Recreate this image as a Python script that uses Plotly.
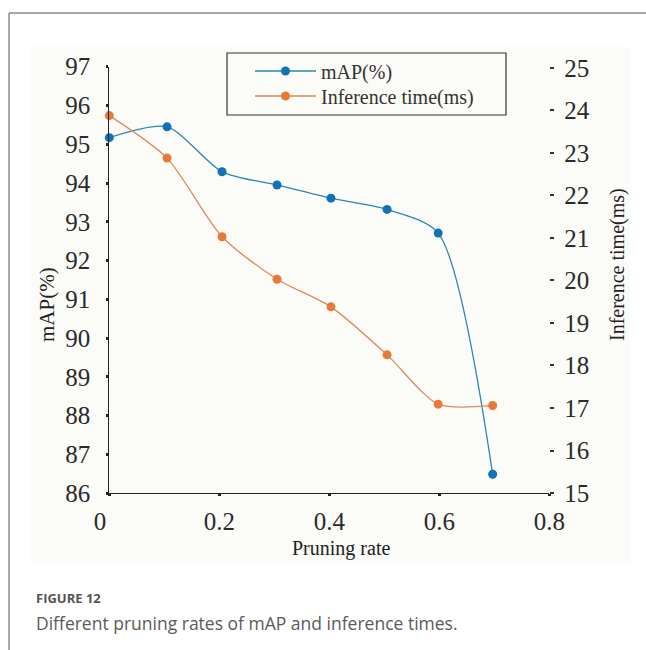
import plotly.graph_objects as go

# ---- data ----
pruning_rate = [0.0, 0.105, 0.205, 0.305, 0.403, 0.505, 0.598, 0.697]
map_pct = [95.17, 95.45, 94.29, 93.95, 93.61, 93.32, 92.71, 86.49]
inference_ms = [23.88, 22.88, 21.03, 20.03, 19.38, 18.25, 17.09, 17.06]
x_ticks = [0, 0.2, 0.4, 0.6, 0.8]
x_tick_text = ["0\u00a0\u00a0\u00a0", "0.2", "0.4", "0.6", "0.8"]
left_ticks = list(range(86, 98))
right_ticks = list(range(15, 26))

W, H = 646, 650
def px(x):
    return x / W
def py(y):
    return 1 - y / H

BLUE_LINE = "#2a88ad"
BLUE = "#1173b3"
ORANGE_LINE = "#e0895a"
ORANGE = "#e8793a"
SERIF = "Liberation Serif, DejaVu Serif, serif"
SANS = "Open Sans, Noto Sans, sans-serif"

fig = go.Figure()
fig.add_trace(go.Scatter(
    x=pruning_rate, y=map_pct, name="mAP(%)", mode="lines+markers",
    line=dict(color=BLUE_LINE, width=1.3, shape="spline", smoothing=0.75),
    marker=dict(color=BLUE, size=9), cliponaxis=False, yaxis="y", legend="legend"))
fig.add_trace(go.Scatter(
    x=pruning_rate, y=inference_ms, name="Inference time(ms)", mode="lines+markers",
    line=dict(color=ORANGE_LINE, width=1.3, shape="spline", smoothing=0.75),
    marker=dict(color=ORANGE, size=9), cliponaxis=False, yaxis="y2", legend="legend2"))

x0p, x1p = 109.3, 549.3
ytop, ybot = 66.7, 493.3

tickfont = dict(family=SERIF, size=25, color="#2a2a2a")
legfont = dict(family=SERIF, size=20, color="#333")

fig.update_layout(
    width=W, height=H, margin=dict(l=0, r=0, t=0, b=0, autoexpand=False),
    paper_bgcolor="white", plot_bgcolor="rgba(0,0,0,0)",
    font=dict(family=SERIF, color="#222"),
    showlegend=True,
    legend=dict(x=px(250), y=py(71), xanchor="left", yanchor="middle",
                bgcolor="rgba(0,0,0,0)", borderwidth=0, font=legfont, itemwidth=61),
    legend2=dict(x=px(250), y=py(96), xanchor="left", yanchor="middle",
                 bgcolor="rgba(0,0,0,0)", borderwidth=0, font=legfont, itemwidth=61),
    xaxis=dict(domain=[px(x0p), px(x1p)], range=[0, 0.8], automargin=False,
               tickvals=x_ticks, ticktext=x_tick_text,
               showgrid=False, zeroline=False,
               showline=True, linecolor="#222", linewidth=1.2,
               ticks="outside", ticklen=2, tickwidth=3, tickcolor="#222",
               ticklabelstandoff=4, tickfont=tickfont),
    yaxis=dict(domain=[py(ybot), py(ytop)], range=[86, 97], automargin=False,
               tickvals=left_ticks, showgrid=False, zeroline=False,
               showline=True, linecolor="#222", linewidth=1.2,
               ticks="outside", ticklen=2, tickwidth=3, tickcolor="#222",
               ticklabelstandoff=11, tickfont=tickfont),
    yaxis2=dict(overlaying="y", side="right", anchor="x", automargin=False,
                range=[14.993, 25.03], tickvals=right_ticks,
                showgrid=False, zeroline=False, showline=False,
                ticks="outside", ticklen=4, tickwidth=1.5, tickcolor="#333",
                ticklabelstandoff=5, tickfont=tickfont),
)

shapes = [
    # light image background
    dict(type="rect", xref="paper", yref="paper", x0=px(31), x1=px(630),
         y0=py(563), y1=py(47), fillcolor="#fbfbf8", line=dict(width=0), layer="below"),
    # outer frame lines
    dict(type="line", xref="paper", yref="paper", x0=px(9), x1=px(646),
         y0=py(13), y1=py(13), line=dict(color="#8a8a8a", width=1.5)),
    dict(type="line", xref="paper", yref="paper", x0=px(9), x1=px(9),
         y0=py(13), y1=py(650), line=dict(color="#8a8a8a", width=1.5)),
    # legend box
    dict(type="rect", xref="paper", yref="paper", x0=px(227), x1=px(506),
         y0=py(115), y1=py(53), line=dict(color="#333", width=1.2),
         fillcolor="rgba(0,0,0,0)"),
]
fig.update_layout(shapes=shapes)

def ann(text, x, y, size, family=SERIF, color="#222", angle=0, xanchor="center"):
    return dict(text=text, x=px(x), y=py(y), xref="paper", yref="paper",
                xanchor=xanchor, yanchor="middle", showarrow=False,
                textangle=angle, font=dict(family=family, size=size, color=color))

annotations = [
    ann("Pruning rate", 341, 548, 20),
    ann("mAP(%)", 47, 304, 21, angle=-90),
    ann("Inference time(ms)", 617, 265, 20, angle=-90),
    ann("<b>FIGURE 12</b>", 34, 598, 13, family=SANS, color="#555", xanchor="left"),
    ann("Different pruning rates of mAP and inference times.", 34, 623, 17.5,
        family=SANS, color="#5a5a5a", xanchor="left"),
]
fig.update_layout(annotations=annotations)

fig.write_html("out.html")
